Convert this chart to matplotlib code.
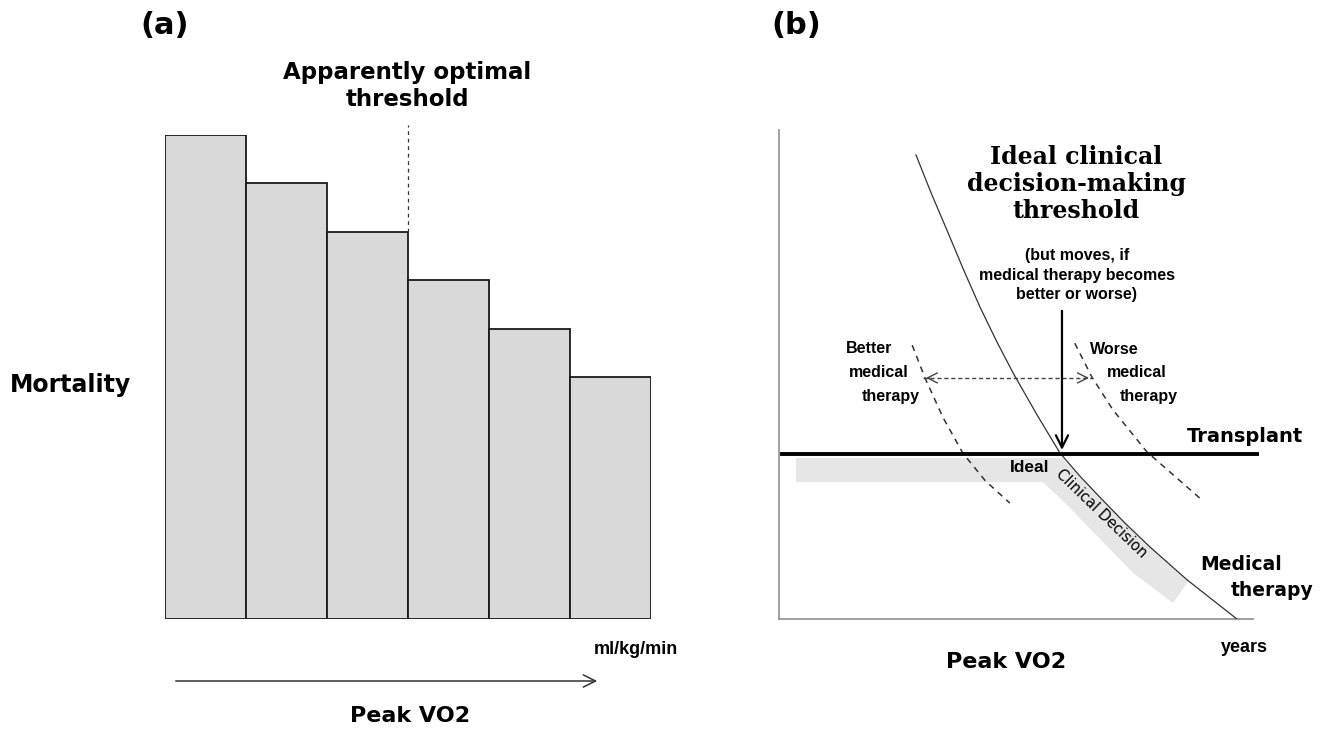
import matplotlib
matplotlib.use("Agg")
import matplotlib.pyplot as plt
from matplotlib.patches import Polygon

# panel (a): mortality per peak VO2 band
mortality = [10, 9, 8, 7, 6, 5]
threshold_edge = 3          # dashed line after 3rd band

# panel (b): schematic, x = peak VO2 (0-100), y = years (0-100)
medical_x = [28.9, 32.1, 35.4, 38.9, 42.4, 45.9, 49.4, 54.4, 59.3, 63.5,
             67.7, 73.0, 78.3, 86.1, 96.6]
medical_y = [94.9, 87.1, 79.6, 71.5, 63.8, 56.8, 50.3, 41.8, 33.9, 29.2,
             24.9, 19.6, 14.7, 8.0, 0.0]
better_x = [28.1, 30.8, 34.6, 38.8, 43.5, 48.7]
better_y = [56.0, 49.3, 41.2, 33.9, 28.3, 23.7]
worse_x = [62.4, 66.0, 70.5, 77.6, 88.8]
worse_y = [56.4, 49.5, 42.7, 34.2, 24.7]
transplant_x = [0.6, 100.8]
transplant_y = 33.7
band_x = [3.6, 59.7, 67.7, 78.3, 86.3, 83.1, 74.7, 60.8, 55.7, 3.6]
band_y = [32.9, 32.9, 24.9, 14.7, 7.6, 3.3, 9.4, 23.3, 28.0, 28.0]
ideal_x = 59.7
arrow_top = 63.6
shift_x = [30.4, 66.0]
shift_y = 49.3

W, H = 1325, 729
fig = plt.figure(figsize=(W / 100, H / 100), dpi=100)

BOLD = "DejaVu Sans"
NARROW = ["Liberation Sans", "DejaVu Sans"]
SERIF = "DejaVu Serif"

# ---- panel (a)
ax = fig.add_axes([165 / W, 1 - 619 / H, 486 / W, 484 / H])
xs = range(len(mortality))
ax.bar(xs, mortality, width=1, align="edge", color="#d9d9d9",
       edgecolor="#1a1a1a", linewidth=1.3)
ax.plot([threshold_edge, threshold_edge], [mortality[threshold_edge - 1], 10.2],
        ls=(0, (3, 3)), color="#333333", lw=0.9, clip_on=False)
ax.set_xlim(0, len(mortality))
ax.set_ylim(0, 10)
ax.axis("off")

# ---- panel (b)
bx = fig.add_axes([779 / W, 1 - 619 / H, 474 / W, 489 / H])
bx.set_xlim(0, 100)
bx.set_ylim(0, 100)
for s in ["top", "right"]:
    bx.spines[s].set_visible(False)
for s in ["left", "bottom"]:
    bx.spines[s].set_color("#999999")
    bx.spines[s].set_linewidth(1.3)
bx.set_xticks([])
bx.set_yticks([])

bx.add_patch(Polygon(list(zip(band_x, band_y)), closed=True,
                     facecolor="#e6e6e6", edgecolor="none", zorder=1))
bx.plot(medical_x, medical_y, color="#333333", lw=0.9, zorder=3)
bx.plot(better_x, better_y, color="#333333", lw=1.1, ls=(0, (4, 3.5)), zorder=3)
bx.plot(worse_x, worse_y, color="#333333", lw=1.1, ls=(0, (4, 3.5)), zorder=3)
bx.plot(transplant_x, [transplant_y] * 2, color="black", lw=2.8, zorder=4,
        clip_on=False)
bx.annotate("", xy=(ideal_x, transplant_y + 0.3), xytext=(ideal_x, arrow_top),
            arrowprops=dict(arrowstyle="->", lw=1.6, color="black",
                            mutation_scale=22), zorder=5)
bx.plot(shift_x, [shift_y] * 2, color="#444444", lw=1.0, ls=(0, (3, 2)))
for x0, x1 in [(shift_x[0] + 2, shift_x[0]), (shift_x[1] - 2, shift_x[1])]:
    bx.annotate("", xy=(x1, shift_y), xytext=(x0, shift_y),
                arrowprops=dict(arrowstyle="->", lw=1.0, color="#444444",
                                mutation_scale=18))

# ---- text, placed in figure pixels
ov = fig.add_axes([0, 0, 1, 1])
ov.set_xlim(0, W)
ov.set_ylim(H, 0)
ov.axis("off")


def t(x, y, s, family=BOLD, size=12, weight="bold", **kw):
    ov.text(x, y, s, family=family, fontsize=size, fontweight=weight,
            ha=kw.pop("ha", "center"), va=kw.pop("va", "center"), **kw)


t(165, 25, "(a)", size=22)
t(796, 25, "(b)", size=22)

t(407, 86, "Apparently optimal\nthreshold", size=16.5, linespacing=1.2)
t(70, 385, "Mortality", size=17)
t(636, 650, "ml/kg/min", family=NARROW, size=13)
ov.annotate("", xy=(600, 681), xytext=(173, 681),
            arrowprops=dict(arrowstyle="->", lw=1.1, color="#333333",
                            mutation_scale=22))
t(410, 716, "Peak VO2", size=16)

t(1076, 184, "Ideal clinical\ndecision-making\nthreshold", family=SERIF,
  size=17, linespacing=1.15)
t(1077, 275, "(but moves, if\nmedical therapy becomes\nbetter or worse)",
  family=NARROW, size=11.5, linespacing=1.35)
t(846, 348, "Better", family=NARROW, size=11.5, ha="left")
t(849, 372, "medical", family=NARROW, size=11.5, ha="left")
t(862, 396, "therapy", family=NARROW, size=11.5, ha="left")
t(1090, 349, "Worse", family=NARROW, size=11.5, ha="left")
t(1107, 372, "medical", family=NARROW, size=11.5, ha="left")
t(1120, 396, "therapy", family=NARROW, size=11.5, ha="left")
t(1245, 436, "Transplant", size=14)
t(1049, 467, "Ideal", family=NARROW, size=12.5, ha="right")
t(1101, 514, "Clinical Decision", size=10.5, weight="normal", rotation=-44,
  rotation_mode="anchor")
t(1200, 565, "Medical", size=13.5, ha="left")
t(1231, 590, "therapy", size=13.5, ha="left")
t(1244, 648, "years", family=NARROW, size=13)
t(1006, 662, "Peak VO2", size=16)

fig.savefig("out.png", dpi=100)
